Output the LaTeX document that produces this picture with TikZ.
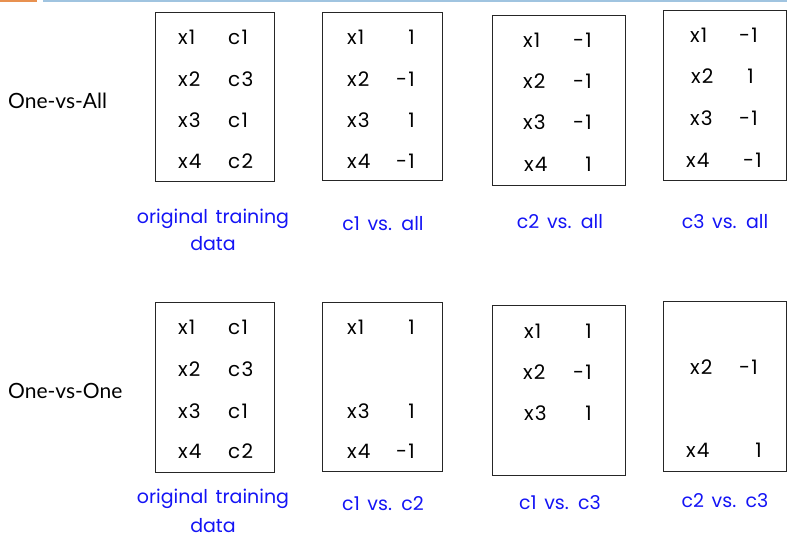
\documentclass[tikz,border=0pt]{standalone}
\usepackage{fontspec}
\setmainfont[WordSpace=1.5]{Poppins}
\newfontfamily\cellfont[LetterSpace=6]{Poppins}
\newfontfamily\sidefont{Lato}
\usetikzlibrary{fit}
\definecolor{labblue}{RGB}{20,20,245}
\definecolor{barorange}{RGB}{232,145,80}
\definecolor{barblue}{RGB}{160,196,224}
\tikzset{
  tbox/.style={draw=black!85, line width=0.9pt, inner sep=0pt},
  cellL/.style={anchor=base west, inner sep=0pt, font=\cellfont\fontsize{20}{20}\selectfont},
  cellR/.style={anchor=base east, inner sep=0pt, font=\cellfont\fontsize{20}{20}\selectfont},
  caption/.style={anchor=base, inner sep=0pt, text=labblue, font=\fontsize{19}{19}\selectfont},
  sidelab/.style={anchor=base west, inner sep=0pt, font=\sidefont\fontsize{21}{21}\selectfont},
  bar/.style={line width=2pt}
}
\begin{document}
\begin{tikzpicture}[x=1pt,y=-1pt]
\useasboundingbox (0,0) rectangle (787,539);
% top bars
\coordinate (ob1) at (0,1); \coordinate (ob2) at (37,1);
\coordinate (bb1) at (43,1); \coordinate (bb2) at (787,1);
\draw[bar, barorange] (ob1) -- (ob2);
\draw[bar, barblue] (bb1) -- (bb2);

% side labels
\node[sidelab] (ova) at (8,108) {One-vs-All};
\node[sidelab] (ovo) at (8,398) {One-vs-One};

% ---------- top row boxes ----------
\node[tbox, fit={(155.7,12)(274.3,181.7)}] (ta) {};
\node[tbox, fit={(322.7,12)(442.7,180.7)}] (tb) {};
\node[tbox, fit={(492.3,15)(625.3,185)}] (tc) {};
\node[tbox, fit={(663.3,10.3)(786.5,180.3)}] (td) {};

% box ta
\node[cellL] (ta1x) at (178,44) {x1}; \node[cellL] (ta1c) at (228,44) {c1};
\node[cellL] (ta2x) at (178,86) {x2}; \node[cellL] (ta2c) at (228,86) {c3};
\node[cellL] (ta3x) at (178,127) {x3}; \node[cellL] (ta3c) at (228,127) {c1};
\node[cellL] (ta4x) at (178,168) {x4}; \node[cellL] (ta4c) at (228,168) {c2};
% box tb
\node[cellL] (tb1x) at (347,44) {x1}; \node[cellR] (tb1c) at (415,44) {1};
\node[cellL] (tb2x) at (347,86) {x2}; \node[cellR] (tb2c) at (415,86) {-1};
\node[cellL] (tb3x) at (347,127) {x3}; \node[cellR] (tb3c) at (415,127) {1};
\node[cellL] (tb4x) at (347,168) {x4}; \node[cellR] (tb4c) at (415,168) {-1};
% box tc
\node[cellL] (tc1x) at (523,47) {x1}; \node[cellR] (tc1c) at (592,47) {-1};
\node[cellL] (tc2x) at (523,88) {x2}; \node[cellR] (tc2c) at (592,88) {-1};
\node[cellL] (tc3x) at (523,129) {x3}; \node[cellR] (tc3c) at (592,129) {-1};
\node[cellL] (tc4x) at (524,171) {x4}; \node[cellR] (tc4c) at (592,171) {1};
% box td
\node[cellL] (td1x) at (690,42) {x1}; \node[cellR] (td1c) at (758,42) {-1};
\node[cellL] (td2x) at (691,83) {x2}; \node[cellR] (td2c) at (754,83) {1};
\node[cellL] (td3x) at (690,125) {x3}; \node[cellR] (td3c) at (758,125) {-1};
\node[cellL] (td4x) at (686,167) {x4}; \node[cellR] (td4c) at (762,167) {-1};

% captions top
\node[caption] (tcapa1) at (213,223) {original training};
\node[caption] (tcapa2) at (213,250) {data};
\node[caption] (tcapb) at (383,230) {c1 vs. all};
\node[caption] (tcapc) at (560,228) {c2 vs. all};
\node[caption] (tcapd) at (725,228) {c3 vs. all};

% ---------- bottom row boxes ----------
\node[tbox, fit={(155.7,302)(274.3,472.7)}] (ba) {};
\node[tbox, fit={(322.7,302.3)(442.7,471)}] (bb) {};
\node[tbox, fit={(492.3,305.7)(625.3,475.7)}] (bc) {};
\node[tbox, fit={(663.3,301.3)(786.5,471)}] (bd) {};

% box ba
\node[cellL] (ba1x) at (178,334) {x1}; \node[cellL] (ba1c) at (228,334) {c1};
\node[cellL] (ba2x) at (178,376) {x2}; \node[cellL] (ba2c) at (228,376) {c3};
\node[cellL] (ba3x) at (178,418) {x3}; \node[cellL] (ba3c) at (228,418) {c1};
\node[cellL] (ba4x) at (178,458) {x4}; \node[cellL] (ba4c) at (228,458) {c2};
% box bb
\node[cellL] (bb1x) at (347,334) {x1}; \node[cellR] (bb1c) at (415,334) {1};
\node[cellL] (bb3x) at (347,418) {x3}; \node[cellR] (bb3c) at (415,418) {1};
\node[cellL] (bb4x) at (347,458) {x4}; \node[cellR] (bb4c) at (415,458) {-1};
% box bc
\node[cellL] (bc1x) at (524,338) {x1}; \node[cellR] (bc1c) at (592,338) {1};
\node[cellL] (bc2x) at (523,379) {x2}; \node[cellR] (bc2c) at (592,379) {-1};
\node[cellL] (bc3x) at (524,420) {x3}; \node[cellR] (bc3c) at (592,420) {1};
% box bd
\node[cellL] (bd2x) at (690,374) {x2}; \node[cellR] (bd2c) at (758,374) {-1};
\node[cellL] (bd4x) at (686,457) {x4}; \node[cellR] (bd4c) at (762,457) {1};

% captions bottom
\node[caption] (bcapa1) at (213,503) {original training};
\node[caption] (bcapa2) at (213,532) {data};
\node[caption] (bcapb) at (383,510) {c1 vs. c2};
\node[caption] (bcapc) at (560,509) {c1 vs. c3};
\node[caption] (bcapd) at (725,507) {c2 vs. c3};
\end{tikzpicture}
\end{document}
